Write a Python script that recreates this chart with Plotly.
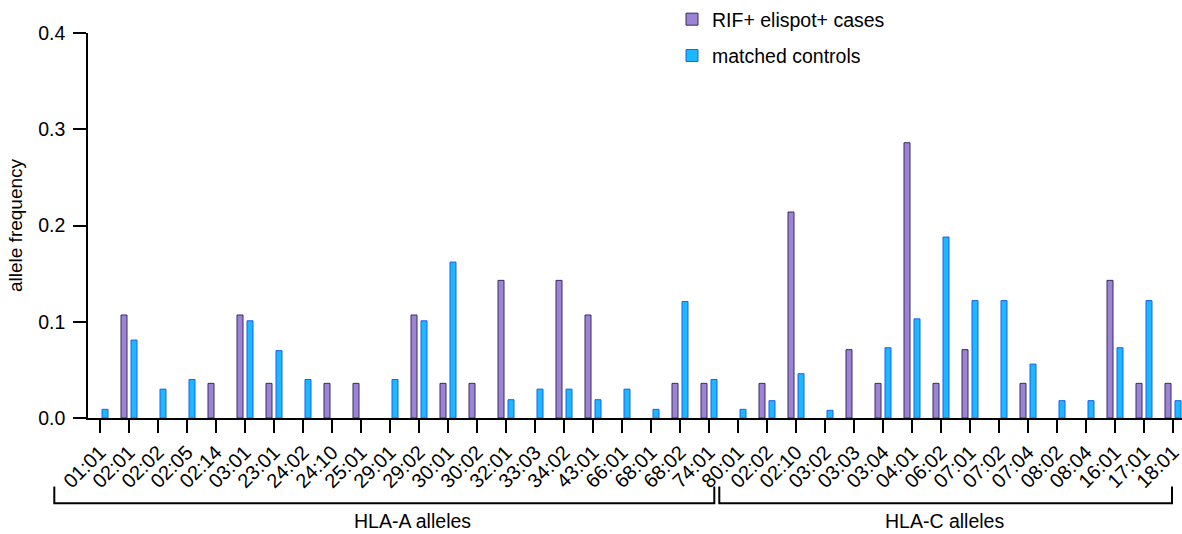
import plotly.graph_objects as go

# ---- data ----
hla_a_labels = ["01:01", "02:01", "02:02", "02:05", "02:14", "03:01", "23:01", "24:02",
                "24:10", "25:01", "29:01", "29:02", "30:01", "30:02", "32:01", "33:03",
                "34:02", "43:01", "66:01", "68:01", "68:02", "74:01", "80:01"]
hla_a_cases = [0, 0.107, 0, 0, 0.036, 0.107, 0.036, 0, 0.036, 0.036, 0, 0.107, 0.036,
               0.036, 0.143, 0, 0.143, 0.107, 0, 0, 0.036, 0.036, 0]
hla_a_controls = [0.009, 0.081, 0.030, 0.040, 0, 0.101, 0.070, 0.040, 0, 0, 0.040, 0.101,
                  0.162, 0, 0.019, 0.030, 0.030, 0.019, 0.030, 0.009, 0.121, 0.040, 0.009]

hla_c_labels = ["02:02", "02:10", "03:02", "03:03", "03:04", "04:01", "06:02", "07:01",
                "07:02", "07:04", "08:02", "08:04", "16:01", "17:01", "18:01"]
hla_c_cases = [0.036, 0.214, 0, 0.071, 0.036, 0.286, 0.036, 0.071, 0, 0.036, 0, 0,
               0.143, 0.036, 0.036]
hla_c_controls = [0.018, 0.046, 0.008, 0, 0.073, 0.103, 0.188, 0.122, 0.122, 0.056,
                  0.018, 0.018, 0.073, 0.122, 0.018]

series_names = ["RIF+ elispot+ cases", "matched controls"]
y_ticks = [0.0, 0.1, 0.2, 0.3, 0.4]

# ---- build ----
labels = hla_a_labels + hla_c_labels
cases = hla_a_cases + hla_c_cases
controls = hla_a_controls + hla_c_controls
xpos = list(range(len(labels)))


def nz(v):
    return [x if x else None for x in v]


FONT = "Arial, 'Liberation Sans', Helvetica, sans-serif"

fig = go.Figure()
fig.add_trace(go.Bar(
    x=xpos, y=nz(cases), name=series_names[0], legendgroup="a",
    marker=dict(color="#9c84d4", line=dict(color="#3a2b5e", width=1)),
))
fig.add_trace(go.Bar(
    x=xpos, y=nz(controls), name=series_names[1], legendgroup="b",
    marker=dict(color="#1cb9ff", line=dict(color="#1f5ef0", width=1)),
))

# plot area in pixels: x 88..1182, y 33..418 ; category step 29px, first at 100
W, H = 1182, 534
L, R, T, B = 88, 0, 33, 116
pw = W - L - R
ph = H - T - B
step = 29.0
x0 = -(100 - L) / step
x1 = (len(labels) - 1) + (W - R - (100 + step * (len(labels) - 1))) / step


def px(p):
    return (p - L) / pw


def py(p):
    return (H - B - p) / ph


bracket = dict(color="black", width=2)
shapes = []
for a, b in [(54.3, 714.3), (719.3, 1172)]:
    shapes.append(dict(type="path", xref="paper", yref="paper",
                       path=f"M {px(a)} {py(486.5)} L {px(a)} {py(503.3)} L {px(b)} {py(503.3)} L {px(b)} {py(486.5)}",
                       line=bracket))

fig.update_layout(
    width=W, height=H,
    margin=dict(l=L, r=R, t=T, b=B, autoexpand=False),
    paper_bgcolor="white", plot_bgcolor="white",
    font=dict(family=FONT, size=19.5, color="black"),
    barmode="group", bargap=0.31, bargroupgap=0.4,
    showlegend=True,
    legend=dict(x=px(672), y=py(0), xanchor="left", yanchor="top",
                font=dict(size=19.5), tracegroupgap=8, traceorder="grouped",
                bgcolor="rgba(0,0,0,0)"),
    xaxis=dict(range=[x0, x1], tickmode="array", tickvals=xpos, ticktext=labels,
               tickangle=-45, ticks="outside", ticklen=13, tickwidth=1.5,
               tickcolor="black", showline=True, linecolor="black", linewidth=1.5,
               showgrid=False, zeroline=False, tickfont=dict(size=20),
               ticklabeloverflow="allow", automargin=False),
    yaxis=dict(range=[0, 0.4], tickmode="array", tickvals=y_ticks, tickformat=".1f",
               ticks="outside", ticklen=13, tickwidth=1.5, tickcolor="black",
               showline=True, linecolor="black", linewidth=1.5, showgrid=False,
               zeroline=False, tickfont=dict(size=19.5), automargin=False,
               ticklabelstandoff=4,
               title=dict(text="allele frequency", font=dict(size=19), standoff=11)),
    shapes=shapes,
    annotations=[
        dict(text="HLA-A alleles", x=px(412), y=py(521), xref="paper", yref="paper",
             showarrow=False, xanchor="center", yanchor="middle", font=dict(size=19.5)),
        dict(text="HLA-C alleles", x=px(944.5), y=py(521), xref="paper", yref="paper",
             showarrow=False, xanchor="center", yanchor="middle", font=dict(size=19.5)),
    ],
)

fig.write_html("out.html", config={"displayModeBar": False},
               post_script="document.body.style.margin='0';")
